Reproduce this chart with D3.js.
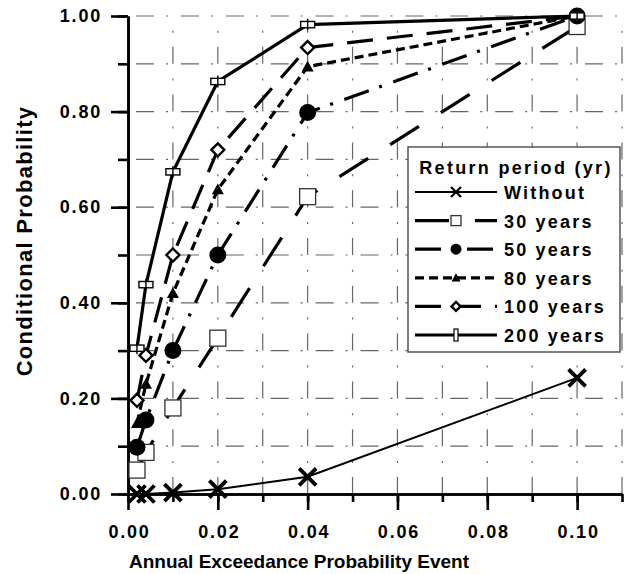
<!DOCTYPE html>
<html lang="en">
<head>
    <meta charset="UTF-8">
    <title>Conditional Probability</title>
    <style>
        body { margin: 0; background: #fff; }
        text { font-family: "Liberation Sans", Arial, sans-serif; font-weight: bold; fill: #000; }
    </style>
</head>
<body>
    <div class="container"></div>
    <script src="https://cdn.jsdelivr.net/npm/d3@7/dist/d3.min.js"></script>
    <script>
        // Data
        const aep = [0.002, 0.004, 0.01, 0.02, 0.04, 0.1]
        const without = [0, 0, 0.003, 0.01, 0.036, 0.243]
        const years30 = [0.05, 0.087, 0.18, 0.326, 0.622, 0.978]
        const years50 = [0.098, 0.155, 0.30, 0.50, 0.798, 1.0]
        const years80 = [0.148, 0.23, 0.42, 0.637, 0.894, 1.0]
        const years100 = [0.196, 0.29, 0.50, 0.72, 0.934, 1.0]
        const years200 = [0.305, 0.438, 0.674, 0.863, 0.982, 1.0]
        const seriesNames = ["Without", "30 years", "50 years", "80 years", "100 years", "200 years"]
        const xMajorTicks = [0, 0.02, 0.04, 0.06, 0.08, 0.10]
        const yMajorTicks = [0, 0.2, 0.4, 0.6, 0.8, 1.0]

        // Setup config
        const width = 629
        const height = 574
        const plotLeft = 128, plotRight = 622, plotTop = 16, plotBottom = 494

        const svg = d3.select('.container')
                    .append("svg")
                    .attr("width", width)
                    .attr("height", height)

        const xScale = d3.scaleLinear().domain([0, 0.11]).range([plotLeft, plotRight])
        const yScale = d3.scaleLinear().domain([0, 1]).range([plotBottom, plotTop])

        const xMinor = d3.range(0, 12).map(i => i / 100)
        const yMinor = d3.range(0, 11).map(i => i / 10)

        // Grid lines
        const grid = svg.append("g").attr("class", "grid")
                        .attr("stroke", "#666").attr("stroke-width", 1.2)
        grid.selectAll(".hgrid").data(yMinor.slice(1))
            .join("line")
            .attr("x1", plotLeft).attr("x2", xScale(0.11) + 1)
            .attr("y1", d => yScale(d)).attr("y2", d => yScale(d))
            .attr("stroke-dasharray", "18,12,2,12.9")
            .attr("stroke-dashoffset", -8)
        grid.selectAll(".vgrid").data(xMinor.slice(1))
            .join("line")
            .attr("x1", d => xScale(d)).attr("x2", d => xScale(d))
            .attr("y1", plotBottom).attr("y2", plotTop)
            .attr("stroke-dasharray", "17,14,2,14.8")
            .attr("stroke-dashoffset", 0)

        // Axes
        const axes = svg.append("g").attr("class", "axes")
        const xMinorAxis = d3.axisBottom(xScale).tickValues(xMinor).tickSize(8).tickSizeOuter(0).tickFormat(() => "")
        const xMajorAxis = d3.axisBottom(xScale).tickValues(xMajorTicks).tickSize(16).tickSizeOuter(0)
                            .tickPadding(15).tickFormat(d3.format(".2f"))
        const yMinorAxis = d3.axisLeft(yScale).tickValues(yMinor).tickSize(10).tickSizeOuter(0).tickFormat(() => "")
        const yMajorAxis = d3.axisLeft(yScale).tickValues(yMajorTicks).tickSize(17).tickSizeOuter(0)
                            .tickPadding(9).tickFormat(d3.format(".2f"))

        axes.append("g").attr("transform", `translate(0,${plotBottom})`).call(xMinorAxis)
        axes.append("g").attr("class", "x-major").attr("transform", `translate(0,${plotBottom})`).call(xMajorAxis)
        axes.append("g").attr("transform", `translate(${plotLeft},0)`).call(yMinorAxis)
        axes.append("g").attr("transform", `translate(${plotLeft},0)`).call(yMajorAxis)
        axes.selectAll("path.domain").attr("stroke", "#000").attr("stroke-width", 2.6)
        axes.selectAll(".tick line").attr("stroke", "#000").attr("stroke-width", 2.6)
        axes.selectAll(".tick text").style("font-size", "18px").style("letter-spacing", "1.8px")
            .style("font-family", '"Liberation Sans", Arial, sans-serif').style("font-weight", "bold")
        axes.selectAll(".x-major .tick text").attr("dx", "1px")

        // Axis titles
        svg.append("text")
            .attr("x", 299).attr("y", 568)
            .attr("text-anchor", "middle")
            .style("font-size", "19px")
            .text("Annual Exceedance Probability Event")
        svg.append("text")
            .attr("transform", `translate(32,241) rotate(-90)`)
            .attr("text-anchor", "middle")
            .style("font-size", "22px")
            .style("letter-spacing", "1.3px")
            .text("Conditional Probability")

        // Series styles
        const styles = [
            { values: without, width: 2, dash: null, marker: "x" },
            { values: years30, width: 3.2, dash: "34,26", marker: "square" },
            { values: years50, width: 3.2, dash: "26,11,3,12", marker: "circle" },
            { values: years80, width: 3.2, dash: "9,5", marker: "triangle" },
            { values: years100, width: 3.2, dash: "26,14", marker: "diamond" },
            { values: years200, width: 3.2, dash: null, marker: "bar" }
        ]

        const line = d3.line().x(d => xScale(d[0])).y(d => yScale(d[1]))

        function drawMarker(g, type, x, y, s) {
            if (type === "x") {
                g.append("path").attr("d", `M${x - s},${y - s}L${x + s},${y + s}M${x - s},${y + s}L${x + s},${y - s}`)
                    .attr("stroke", "#000").attr("stroke-width", s * 0.45)
            } else if (type === "square") {
                g.append("rect").attr("x", x - s).attr("y", y - s).attr("width", s * 2).attr("height", s * 2)
                    .attr("fill", "#fff").attr("stroke", "#333").attr("stroke-width", 1.3)
            } else if (type === "circle") {
                g.append("circle").attr("cx", x).attr("cy", y).attr("r", s).attr("fill", "#000")
            } else if (type === "triangle") {
                g.append("path").attr("d", `M${x},${y - s}L${x + s},${y + s * 0.8}L${x - s},${y + s * 0.8}Z`)
                    .attr("fill", "#000")
            } else if (type === "diamond") {
                g.append("path").attr("d", `M${x},${y - s}L${x + s},${y}L${x},${y + s}L${x - s},${y}Z`)
                    .attr("fill", "#fff").attr("stroke", "#000").attr("stroke-width", 2.4)
            } else if (type === "bar") {
                g.append("rect").attr("x", x - s).attr("y", y - s * 0.45).attr("width", s * 2).attr("height", s * 0.9)
                    .attr("fill", "#fff").attr("stroke", "#000").attr("stroke-width", 1.4)
                g.append("line").attr("x1", x).attr("x2", x).attr("y1", y - s * 0.85).attr("y2", y + s * 0.85)
                    .attr("stroke", "#000").attr("stroke-width", 1.4)
            }
        }

        const plotSizes = { x: 8.5, square: 8, circle: 8.5, triangle: 6, diamond: 6.5, bar: 7 }
        const series = svg.append("g").attr("class", "series")
        styles.forEach(st => {
            const pts = aep.map((a, i) => [a, st.values[i]])
            series.append("path")
                .datum(pts)
                .attr("d", line)
                .attr("fill", "none")
                .attr("stroke", "#000")
                .attr("stroke-width", st.width)
                .attr("stroke-dasharray", st.dash)
        })
        styles.forEach(st => {
            const g = series.append("g")
            aep.forEach((a, i) => drawMarker(g, st.marker, xScale(a), yScale(st.values[i]), plotSizes[st.marker]))
        })

        // Legend
        const legend = svg.append("g").attr("class", "legend")
        legend.append("rect")
            .attr("x", 408).attr("y", 147).attr("width", 212).attr("height", 205)
            .attr("fill", "#fff").attr("stroke", "#555").attr("stroke-width", 1.5)
        legend.append("text")
            .attr("x", 516).attr("y", 174)
            .attr("text-anchor", "middle")
            .style("font-size", "18px")
            .style("letter-spacing", "2.3px")
            .text("Return period (yr)")
        const legendSizes = { x: 5, square: 5, circle: 5.5, triangle: 4.5, diamond: 4.5, bar: 2 }
        styles.forEach((st, i) => {
            const cy = 192 + i * 28.6
            legend.append("line")
                .attr("x1", 415).attr("x2", 497).attr("y1", cy).attr("y2", cy)
                .attr("stroke", "#000").attr("stroke-width", st.width)
                .attr("stroke-dasharray", st.dash)
            if (st.marker === "bar") {
                legend.append("rect").attr("x", 454).attr("y", cy - 6).attr("width", 4).attr("height", 12)
                    .attr("fill", "#fff").attr("stroke", "#000").attr("stroke-width", 1.2)
            } else {
                drawMarker(legend, st.marker, 456, cy, legendSizes[st.marker])
            }
            legend.append("text")
                .attr("x", 504).attr("y", cy + 7)
                .style("font-size", "18px")
                .style("letter-spacing", "2.2px")
                .text(seriesNames[i])
        })
    </script>
</body>
</html>
